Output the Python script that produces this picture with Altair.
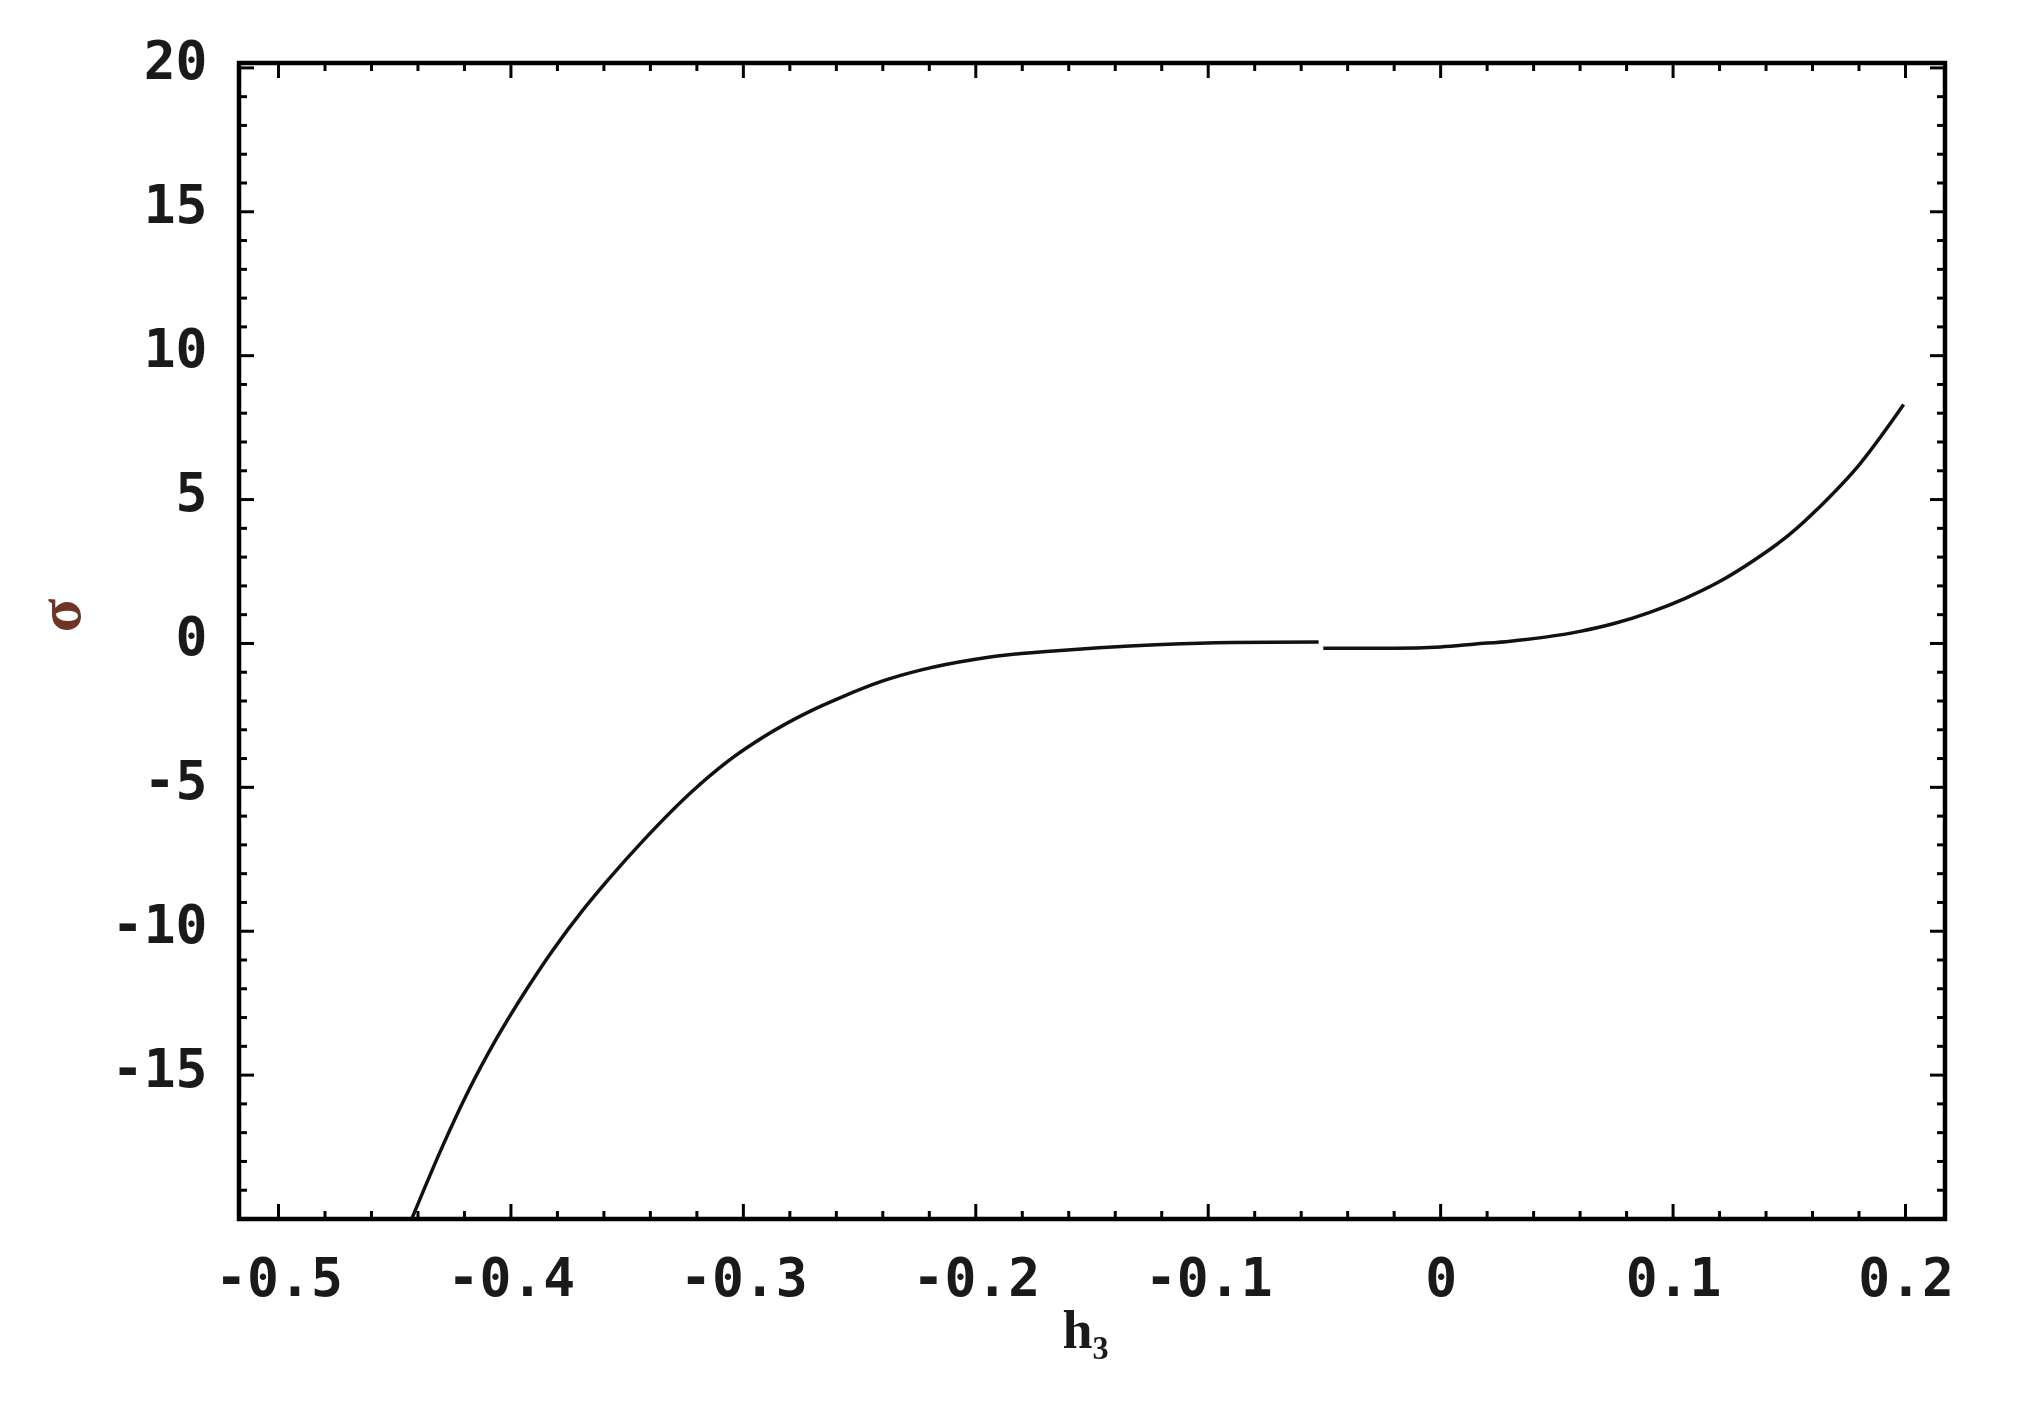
import altair as alt
import pandas as pd

# ---- curve data ----
h_seg_a = [-0.4427, -0.4293, -0.4189, -0.4060, -0.3931, -0.3819, -0.3689, -0.3586,
           -0.3431, -0.3215, -0.3043, -0.2914, -0.2712, -0.2582, -0.2406,
           -0.2234, -0.2001, -0.1816, -0.1650, -0.1470, -0.1200, -0.0900, -0.0525]
s_seg_a = [-20.0, -17.45, -15.65, -13.70, -12.00, -10.65, -9.25, -8.25,
           -6.85, -5.10, -3.95, -3.25, -2.35, -1.88, -1.32,
           -0.92, -0.55, -0.36, -0.25, -0.15, -0.04, 0.03, 0.05]
h_seg_b = [-0.0505, -0.0200, 0.0000, 0.0150, 0.0300, 0.0450, 0.0600, 0.0750, 0.0900,
           0.1050, 0.1200, 0.1350, 0.1500, 0.1650, 0.1800, 0.1992]
s_seg_b = [-0.17, -0.17, -0.12, -0.02, 0.08, 0.22, 0.42, 0.70, 1.08,
           1.56, 2.15, 2.90, 3.78, 4.90, 6.20, 8.30]

# ---- axes ----
x_major = [-0.5, -0.4, -0.3, -0.2, -0.1, 0.0, 0.1, 0.2]
x_minor = [round(-0.5 + 0.02 * k, 2) for k in range(36) if k % 5 != 0]
y_major = [-15, -10, -5, 0, 5, 10, 15, 20]
y_minor = [v for v in range(-19, 20) if v % 5 != 0]

X_DOMAIN = [-0.517, 0.217]
Y_DOMAIN = [-20.0, 20.17]
W, H = 1706, 1156

curve = pd.DataFrame({
    "h": h_seg_a + h_seg_b,
    "s": s_seg_a + s_seg_b,
    "seg": ["a"] * len(h_seg_a) + ["b"] * len(h_seg_b),
})

xs = alt.Scale(domain=X_DOMAIN, nice=False, zero=False)
ys = alt.Scale(domain=Y_DOMAIN, nice=False, zero=False)

MONO = "DejaVu Sans Mono"

x_axis = alt.Axis(
    values=x_major, ticks=False, tickSize=0, domain=False, grid=False,
    labelFont=MONO, labelFontSize=53, labelFontWeight="bold", labelColor="#1a1a1a",
    labelPadding=34, labelFlush=False,
    labelExpr="datum.value == 0 ? '0' : replace(format(datum.value, '.1f'), '\u2212', '-')",
    title="h₃", titleFont="Liberation Serif", titleFontSize=54, titleFontWeight="bold",
    titleColor="#1a1a1a", titleX=846, titleY=112, titleBaseline="middle",
    titleAlign="center")
y_axis = alt.Axis(
    values=y_major, ticks=False, tickSize=0, domain=False, grid=False,
    labelFont=MONO, labelFontSize=53, labelFontWeight="bold", labelColor="#1a1a1a",
    labelPadding=32, labelOffset=-5, labelFlush=False,
    labelExpr="replace(format(datum.value, 'd'), '\u2212', '-')",
    title="σ", titleFont="Liberation Serif", titleFontSize=62, titleColor="#6e3526",
    titleX=-179, titleY=552, titleAngle=-90, titleBaseline="middle", titleAlign="center")

line = alt.Chart(curve).mark_line(color="#111111", strokeWidth=3.5, clip=True,
                                  interpolate="monotone").encode(
    x=alt.X("h:Q", scale=xs, axis=x_axis),
    y=alt.Y("s:Q", scale=ys, axis=y_axis),
    detail="seg:N",
)

def xticks(vals, length):
    d = pd.DataFrame({"v": vals})
    bottom = alt.Chart(d).mark_rule(color="black", strokeWidth=3).encode(
        x=alt.X("v:Q", scale=xs, axis=x_axis), y=alt.value(H), y2=alt.value(H - length))
    top = alt.Chart(d).mark_rule(color="black", strokeWidth=3).encode(
        x=alt.X("v:Q", scale=xs, axis=x_axis), y=alt.value(0), y2=alt.value(length))
    return [bottom, top]

def yticks(vals, length):
    d = pd.DataFrame({"v": vals})
    left = alt.Chart(d).mark_rule(color="black", strokeWidth=3).encode(
        y=alt.Y("v:Q", scale=ys, axis=y_axis), x=alt.value(0), x2=alt.value(length))
    right = alt.Chart(d).mark_rule(color="black", strokeWidth=3).encode(
        y=alt.Y("v:Q", scale=ys, axis=y_axis), x=alt.value(W), x2=alt.value(W - length))
    return [left, right]

layers = [line] + xticks(x_major, 15) + xticks(x_minor, 8) + yticks(y_major, 15) + yticks(y_minor, 8)

chart = alt.layer(*layers).properties(
    width=W, height=H,
    autosize="none",
    padding={"left": 231, "top": 55, "right": 60, "bottom": 140},
    background="white",
).configure_view(stroke="black", strokeWidth=4.5)

chart.save("out.html", embed_options={"renderer": "svg", "actions": False})
